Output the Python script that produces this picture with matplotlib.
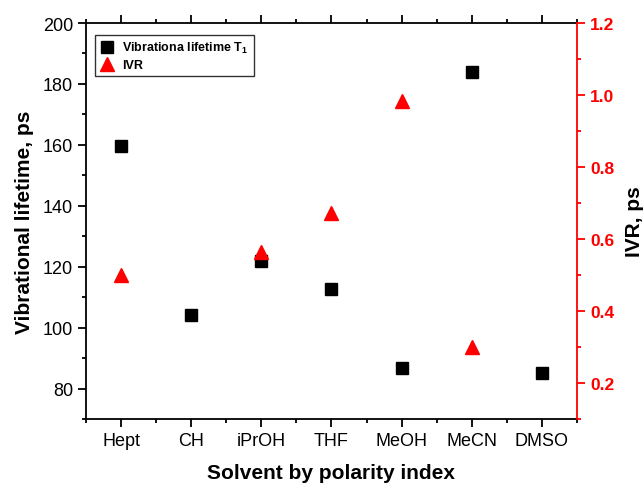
import matplotlib
matplotlib.use("Agg")
import matplotlib.pyplot as plt
from matplotlib.ticker import MultipleLocator, FixedLocator

plt.rcParams['font.family'] = ['Liberation Sans', 'DejaVu Sans']
plt.rcParams['mathtext.fontset'] = 'custom'
plt.rcParams['mathtext.rm'] = 'Liberation Sans'
plt.rcParams['mathtext.bf'] = 'Liberation Sans:bold'

solvents = ["Hept", "CH", "iPrOH", "THF", "MeOH", "MeCN", "DMSO"]
lifetime = [159.7, 104.0, 121.9, 112.8, 86.9, 184.0, 85.2]
ivr_solvents = ["Hept", "iPrOH", "THF", "MeOH", "MeCN"]
ivr = [0.50, 0.563, 0.671, 0.984, 0.30]

pos = {s: i + 1 for i, s in enumerate(solvents)}
x_life = [pos[s] for s in solvents]
x_ivr = [pos[s] for s in ivr_solvents]

fig = plt.figure(figsize=(6.43, 4.85), dpi=100)
ax = fig.add_axes([0.134, 0.134, 0.763, 0.8165])
ax2 = ax.twinx()

h1, = ax.plot(x_life, lifetime, 's', color='black', markersize=8.5, linestyle='none',
              label=r"Vibrationa lifetime T$_{\mathbf{1}}$")
h2, = ax2.plot(x_ivr, ivr, '^', color='red', markersize=10.5, linestyle='none', label="IVR")

ax.set_xlim(0.5, 7.5)
ax.set_ylim(70, 200)
ax2.set_ylim(0.1, 1.2)

ax.set_xticks(x_life)
ax.set_xticklabels(solvents)
ax.xaxis.set_minor_locator(FixedLocator([0.5 + i for i in range(8)]))
ax.yaxis.set_minor_locator(MultipleLocator(10))
ax.set_yticks([80, 100, 120, 140, 160, 180, 200])
ax2.yaxis.set_minor_locator(MultipleLocator(0.1))
ax2.set_yticks([0.2, 0.4, 0.6, 0.8, 1.0, 1.2])
ax2.set_yticklabels(["0.2", "0.4", "0.6", "0.8", "1.0", "1.2"])

for sp in ['left', 'bottom', 'top']:
    ax.spines[sp].set_linewidth(1.3)
    ax.spines[sp].set_color('black')
ax.spines['right'].set_visible(False)
for sp in ['left', 'bottom', 'top']:
    ax2.spines[sp].set_visible(False)
ax2.spines['right'].set_color('red')
ax2.spines['right'].set_linewidth(1.3)

ax.tick_params(axis='both', which='major', direction='out', length=5.5, width=1.3,
               labelsize=13, top=True, bottom=True, pad=4)
ax.tick_params(axis='both', which='minor', direction='out', length=3, width=1.3,
               top=True, bottom=True)
ax2.tick_params(axis='y', which='major', direction='out', length=5.5, width=1.3,
                colors='red', labelsize=12.5, pad=4)
ax2.tick_params(axis='y', which='minor', direction='out', length=3, width=1.3, colors='red')
for t in ax2.get_yticklabels():
    t.set_fontweight('bold')

ax.set_xlabel("Solvent by polarity index", fontsize=15, fontweight='bold', labelpad=10)
ax.set_ylabel("Vibrational lifetime, ps", fontsize=15, fontweight='bold', labelpad=6)
ax2.set_ylabel("IVR, ps", fontsize=15, fontweight='bold', labelpad=8, color='black')

leg = ax.legend(handles=[h1, h2], loc='upper left', bbox_to_anchor=(0.018, 0.97),
                borderaxespad=0, frameon=True, fancybox=False, edgecolor='black',
                prop={'weight': 'bold', 'size': 9}, handletextpad=0.6,
                borderpad=0.4, labelspacing=0.35, handlelength=1.2)
leg.get_frame().set_linewidth(1.0)

fig.savefig("out.png", dpi=100)
